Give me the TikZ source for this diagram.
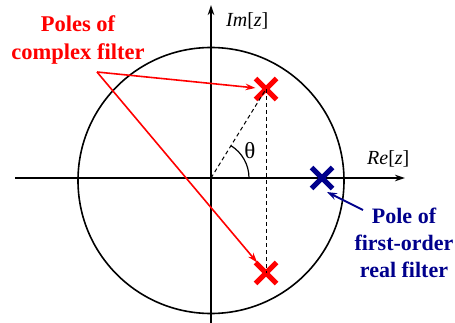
\documentclass[tikz,border=0pt]{standalone}
\usepackage{fontspec}
\setmainfont{Liberation Serif}
\usetikzlibrary{arrows.meta,shapes.misc}
\definecolor{navyb}{RGB}{0,0,140}
\begin{document}
\begin{tikzpicture}[x=1pt,y=-1pt,
  axisline/.style={line width=1.6pt,-{Stealth[length=10pt,width=6.5pt]}},
  pole/.style={cross out,draw,line width=5pt,minimum size=16pt,inner sep=0pt},
  redarrow/.style={red,line width=1.6pt,-{Stealth[length=10pt,width=6.5pt]}},
  bluearrow/.style={navyb,line width=1.8pt,-{Stealth[length=10pt,width=7pt]}},
  guide/.style={line width=1pt,dash pattern=on 4pt off 3pt},
  redlab/.style={text=red,font=\bfseries\fontsize{22.5}{28}\selectfont,align=center,inner sep=0pt},
  bluelab/.style={text=navyb,font=\bfseries\fontsize{22}{27}\selectfont,align=center,inner sep=0pt},
  axlab/.style={font=\fontsize{20}{22}\selectfont,inner sep=0pt}
]
\useasboundingbox (0,0) rectangle (455,323);
% axes
\coordinate (O) at (211,178);
\coordinate (xl) at (15,178);
\coordinate (xr) at (405,178);
\coordinate (yb) at (211,323);
\coordinate (yt) at (211,5);
\draw[axisline] (xl) -- (xr);
\draw[axisline] (yb) -- (yt);
% unit circle
\draw[line width=1.6pt] (211,180.5) circle[radius=133pt];
% poles
\node[pole,red] (P1) at (266,89) {};
\node[pole,red] (P2) at (266,273) {};
\node[pole,navyb] (P3) at (322,178) {};
% guides
\draw[guide] (O) -- (P1.center);
\draw[guide] (P1.center) -- (P2.center);
\draw[line width=1.2pt] (249,178) arc[start angle=0,end angle=58,radius=38pt];
\node[axlab,font=\fontsize{23}{24}\selectfont,anchor=base] (th) at (250,159) {θ};
% axis labels
\node[axlab,anchor=base west] (im) at (226,27) {\textit{Im}[\textit{z}]};
\node[axlab,anchor=base west] (re) at (367,165) {\textit{Re}[\textit{z}]};
% labels
\node[redlab,anchor=north] (lab1) at (78,15) {Poles of\\complex filter};
\coordinate (r0) at (97,72);
\draw[redarrow] (r0) -- (P1);
\draw[redarrow] (r0) -- (P2);
\node[bluelab,anchor=north] (lab2) at (404,208) {Pole of\\first-order\\real filter};
\coordinate (b0) at (363,210);
\coordinate (b1) at (327,192);
\draw[bluearrow] (b0) -- (b1);
\end{tikzpicture}
\end{document}
